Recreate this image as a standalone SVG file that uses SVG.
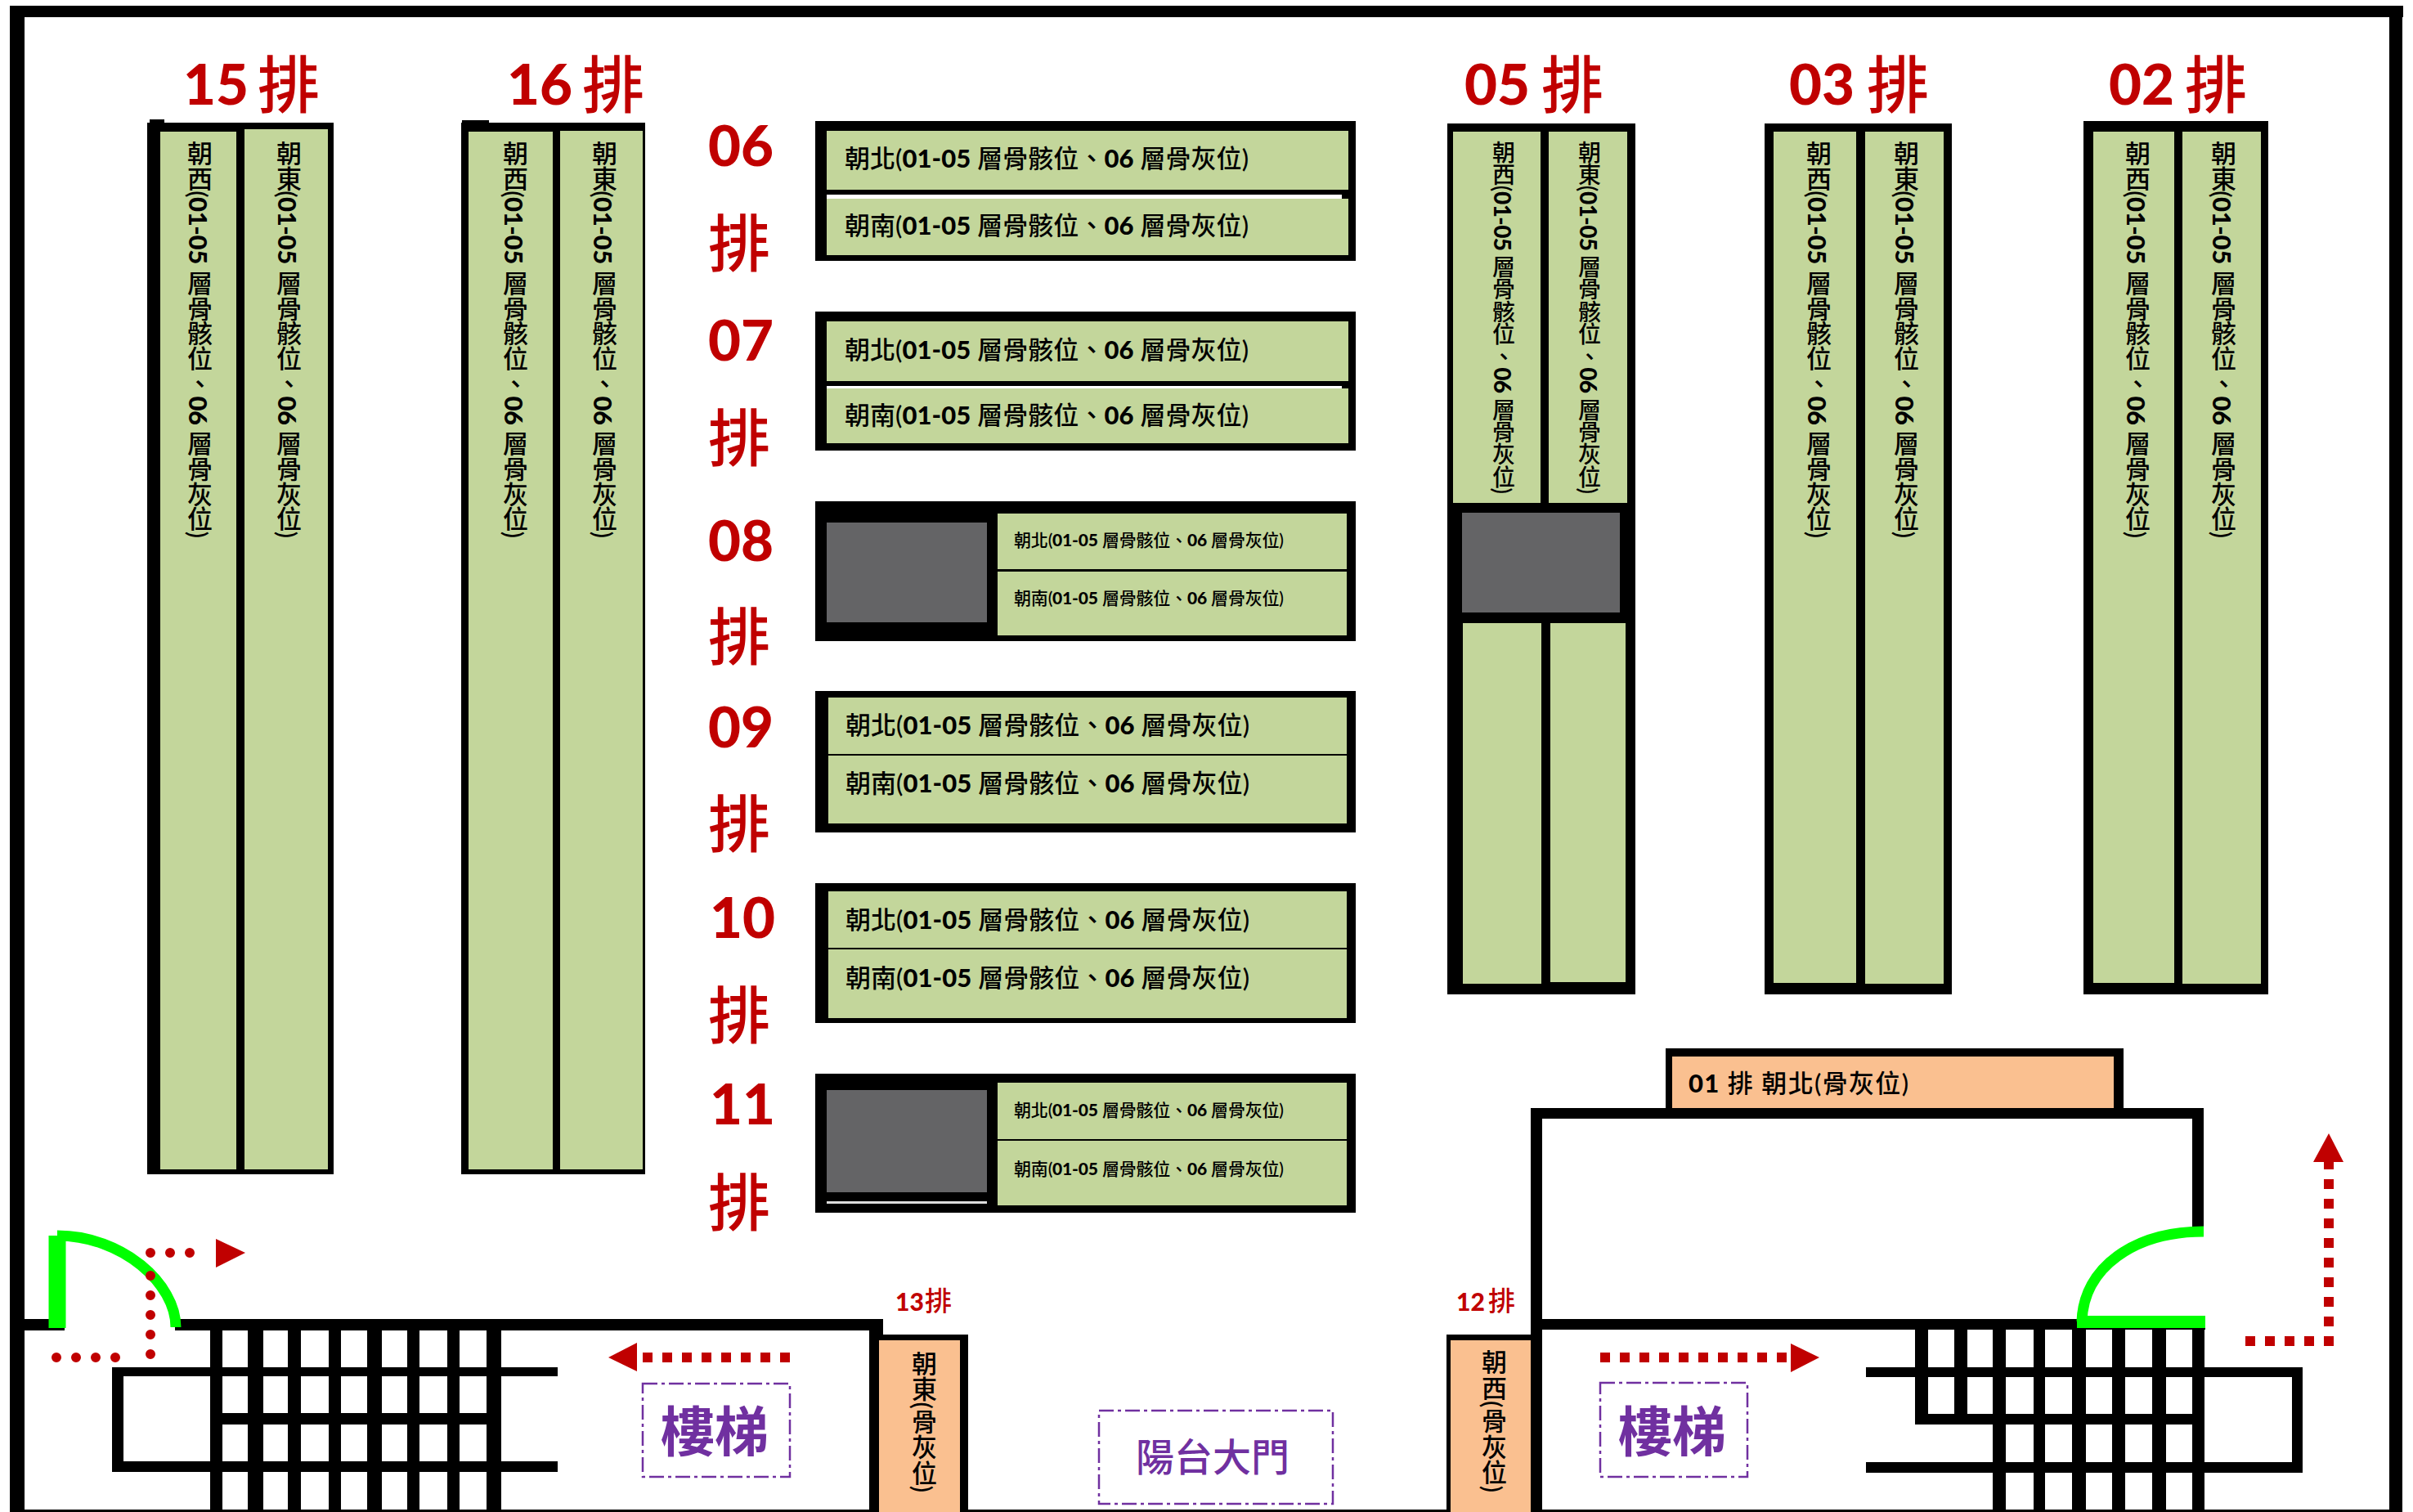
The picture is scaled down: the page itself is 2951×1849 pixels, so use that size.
<svg xmlns="http://www.w3.org/2000/svg" width="2951" height="1849" viewBox="0 0 2951 1849">
<style>
.g{fill:#C3D69B}.o{fill:#FAC090}.k{fill:#000}.s{fill:#646466}
.t{font-family:"Lato","Noto Sans CJK TC",sans-serif;font-weight:500;fill:#000}
.t tspan{font-family:"Lato",sans-serif;font-weight:900}
.h{font-size:31px}.m{font-size:21px}
.v{font-size:31px;writing-mode:vertical-rl}
.v2{font-size:28px}
.r{font-family:"Lato","Noto Sans CJK TC",sans-serif;font-weight:900;fill:#C00000;font-size:69px}
.rc{font-family:"Noto Sans CJK TC",sans-serif;font-weight:500;fill:#C00000;font-size:76px}
.p{fill:none;stroke:#7030A0;stroke-width:2.5;stroke-dasharray:18 5 4 5}
.pt{font-family:"Noto Sans CJK TC",sans-serif;font-weight:700;fill:#7030A0}
.dash{fill:none;stroke:#C00000;stroke-width:12;stroke-dasharray:12 12}
.dot{fill:none;stroke:#C00000;stroke-width:12;stroke-linecap:round;stroke-dasharray:0 24}
.door{fill:none;stroke:#00FF00;stroke-width:13}
</style>
<rect width="2951" height="1849" fill="#fff"/>
<g id="frame" class="k">
<rect x="12" y="7" width="18" height="1842"/><rect x="12" y="7" width="2927" height="14"/><rect x="2922" y="7" width="16" height="1842"/><rect x="12" y="1846" width="2926" height="3"/>
</g>
<g id="row15">
<rect class="k" x="180" y="150" width="228" height="1286"/><rect class="k" x="183" y="146" width="18" height="6"/><rect class="g" x="196" y="161" width="93" height="1269"/><rect class="g" x="299" y="158" width="102" height="1272"/>
<text class="r" x="224" y="128">15</text><text class="rc" x="315" y="132">排</text>
<text class="t v" x="243" y="172" textLength="486">朝西(<tspan>01-05</tspan> 層骨骸位、<tspan>06</tspan> 層骨灰位)</text>
<text class="t v" x="352" y="172" textLength="486">朝東(<tspan>01-05</tspan> 層骨骸位、<tspan>06</tspan> 層骨灰位)</text>
</g>
<g id="row16">
<rect class="k" x="564" y="150" width="225" height="1286"/><rect class="k" x="565" y="147" width="33" height="5"/><rect class="g" x="573" y="161" width="103" height="1269"/><rect class="g" x="685" y="160" width="101" height="1270"/>
<text class="r" x="620" y="128">16</text><text class="rc" x="712" y="132">排</text>
<text class="t v" x="629" y="172" textLength="486">朝西(<tspan>01-05</tspan> 層骨骸位、<tspan>06</tspan> 層骨灰位)</text>
<text class="t v" x="738" y="172" textLength="486">朝東(<tspan>01-05</tspan> 層骨骸位、<tspan>06</tspan> 層骨灰位)</text>
</g>
<g id="row06">
<rect class="k" x="997" y="148" width="661" height="171"/><rect class="g" x="1011" y="160" width="638" height="72"/><rect fill="#fff" x="1011" y="238" width="630" height="5"/><rect class="g" x="1011" y="243" width="638" height="69"/>
<text class="r" x="866" y="203">06</text><text class="rc" x="866" y="326">排</text>
<text class="t h" x="1033" y="205" textLength="494">朝北(<tspan>01-05</tspan> 層骨骸位、<tspan>06</tspan> 層骨灰位)</text>
<text class="t h" x="1033" y="287" textLength="494">朝南(<tspan>01-05</tspan> 層骨骸位、<tspan>06</tspan> 層骨灰位)</text>
</g>
<g id="row07">
<rect class="k" x="997" y="381" width="661" height="170"/><rect class="g" x="1011" y="393" width="638" height="73"/><rect fill="#fff" x="1011" y="472" width="630" height="3"/><rect class="g" x="1011" y="475" width="638" height="67"/>
<text class="r" x="866" y="441">07</text><text class="rc" x="866" y="564">排</text>
<text class="t h" x="1033" y="439" textLength="494">朝北(<tspan>01-05</tspan> 層骨骸位、<tspan>06</tspan> 層骨灰位)</text>
<text class="t h" x="1033" y="519" textLength="494">朝南(<tspan>01-05</tspan> 層骨骸位、<tspan>06</tspan> 層骨灰位)</text>
</g>
<g id="row08">
<rect class="k" x="997" y="613" width="661" height="171"/><rect class="s" x="1011" y="639" width="196" height="122"/><rect class="g" x="1220" y="628" width="427" height="68"/><rect class="g" x="1220" y="699" width="427" height="78"/>
<text class="r" x="866" y="686">08</text><text class="rc" x="866" y="807">排</text>
<text class="t m" x="1240" y="668" textLength="330">朝北(<tspan>01-05</tspan> 層骨骸位、<tspan>06</tspan> 層骨灰位)</text>
<text class="t m" x="1240" y="739" textLength="330">朝南(<tspan>01-05</tspan> 層骨骸位、<tspan>06</tspan> 層骨灰位)</text>
</g>
<g id="row09">
<rect class="k" x="997" y="845" width="661" height="173"/><rect class="g" x="1013" y="853" width="634" height="154"/><rect class="k" x="1013" y="922" width="634" height="2"/>
<text class="r" x="866" y="914">09</text><text class="rc" x="866" y="1036">排</text>
<text class="t h" x="1034" y="898" textLength="494">朝北(<tspan>01-05</tspan> 層骨骸位、<tspan>06</tspan> 層骨灰位)</text>
<text class="t h" x="1034" y="969" textLength="494">朝南(<tspan>01-05</tspan> 層骨骸位、<tspan>06</tspan> 層骨灰位)</text>
</g>
<g id="row10">
<rect class="k" x="997" y="1080" width="661" height="171"/><rect class="g" x="1013" y="1090" width="634" height="155"/><rect class="k" x="1013" y="1159" width="634" height="2"/>
<text class="r" x="868" y="1147">10</text><text class="rc" x="866" y="1270">排</text>
<text class="t h" x="1034" y="1136" textLength="494">朝北(<tspan>01-05</tspan> 層骨骸位、<tspan>06</tspan> 層骨灰位)</text>
<text class="t h" x="1034" y="1207" textLength="494">朝南(<tspan>01-05</tspan> 層骨骸位、<tspan>06</tspan> 層骨灰位)</text>
</g>
<g id="row11">
<rect class="k" x="997" y="1313" width="661" height="170"/><rect class="s" x="1011" y="1333" width="196" height="125"/><rect fill="#ddd" x="1011" y="1469" width="196" height="3"/><rect class="g" x="1220" y="1324" width="427" height="69"/><rect class="g" x="1220" y="1395" width="427" height="79"/>
<text class="r" x="868" y="1375">11</text><text class="rc" x="866" y="1499">排</text>
<text class="t m" x="1240" y="1365" textLength="330">朝北(<tspan>01-05</tspan> 層骨骸位、<tspan>06</tspan> 層骨灰位)</text>
<text class="t m" x="1240" y="1437" textLength="330">朝南(<tspan>01-05</tspan> 層骨骸位、<tspan>06</tspan> 層骨灰位)</text>
</g>
<g id="row05">
<rect class="k" x="1770" y="151" width="230" height="1065"/><rect class="g" x="1777" y="161" width="107" height="454"/><rect class="g" x="1894" y="161" width="96" height="454"/><rect class="s" x="1788" y="627" width="193" height="122"/><rect class="g" x="1789" y="762" width="96" height="441"/><rect class="g" x="1896" y="762" width="92" height="439"/>
<text class="r" x="1791" y="128">05</text><text class="rc" x="1885" y="132">排</text>
<text class="t v v2" x="1838" y="172" textLength="432">朝西(<tspan>01-05</tspan> 層骨骸位、<tspan>06</tspan> 層骨灰位)</text>
<text class="t v v2" x="1943" y="172" textLength="432">朝東(<tspan>01-05</tspan> 層骨骸位、<tspan>06</tspan> 層骨灰位)</text>
</g>
<g id="row03">
<rect class="k" x="2158" y="151" width="229" height="1065"/><rect class="g" x="2169" y="161" width="101" height="1041"/><rect class="g" x="2281" y="161" width="96" height="1042"/>
<text class="r" x="2188" y="128">03</text><text class="rc" x="2283" y="132">排</text>
<text class="t v" x="2223" y="172" textLength="486">朝西(<tspan>01-05</tspan> 層骨骸位、<tspan>06</tspan> 層骨灰位)</text>
<text class="t v" x="2330" y="172" textLength="486">朝東(<tspan>01-05</tspan> 層骨骸位、<tspan>06</tspan> 層骨灰位)</text>
</g>
<g id="row02">
<rect class="k" x="2548" y="148" width="226" height="1068"/><rect class="g" x="2560" y="161" width="99" height="1041"/><rect class="g" x="2669" y="161" width="96" height="1042"/>
<text class="r" x="2579" y="128">02</text><text class="rc" x="2672" y="132">排</text>
<text class="t v" x="2613" y="172" textLength="486">朝西(<tspan>01-05</tspan> 層骨骸位、<tspan>06</tspan> 層骨灰位)</text>
<text class="t v" x="2718" y="172" textLength="486">朝東(<tspan>01-05</tspan> 層骨骸位、<tspan>06</tspan> 層骨灰位)</text>
</g>
<g id="row01">
<rect class="k" x="2037" y="1282" width="560" height="80"/><rect class="o" x="2045" y="1292" width="540" height="67"/>
<text class="t h" x="2065" y="1336" textLength="269"><tspan>01</tspan> 排  朝北(骨灰位)</text>
</g>
<g id="walls" class="k">
<rect x="12" y="1613" width="67" height="14"/><rect x="214" y="1613" width="866" height="14"/><rect x="1063" y="1613" width="17" height="236"/>
<rect x="1872" y="1355" width="823" height="13"/><rect x="1872" y="1355" width="14" height="494"/><rect x="2681" y="1355" width="14" height="151"/><rect x="1872" y="1613" width="825" height="13"/>
</g>
<g id="stairs-left" class="k">
<rect x="257" y="1626" width="15" height="223"/><rect x="303" y="1626" width="19" height="223"/><rect x="352" y="1626" width="16" height="223"/><rect x="402" y="1626" width="15" height="223"/><rect x="449" y="1626" width="18" height="223"/><rect x="498" y="1626" width="15" height="223"/><rect x="547" y="1626" width="15" height="223"/><rect x="595" y="1626" width="18" height="223"/>
<rect x="137" y="1672" width="545" height="11"/><rect x="257" y="1728" width="356" height="14"/><rect x="137" y="1787" width="545" height="13"/><rect x="137" y="1672" width="14" height="128"/>
</g>
<g id="stairs-right" class="k">
<rect x="2342" y="1626" width="16" height="116"/><rect x="2390" y="1626" width="16" height="116"/><rect x="2437" y="1626" width="16" height="223"/><rect x="2487" y="1626" width="14" height="223"/><rect x="2534" y="1626" width="17" height="223"/><rect x="2583" y="1626" width="16" height="223"/><rect x="2632" y="1626" width="17" height="223"/><rect x="2681" y="1626" width="15" height="223"/>
<rect x="2282" y="1672" width="534" height="12"/><rect x="2342" y="1729" width="354" height="13"/><rect x="2282" y="1788" width="534" height="13"/><rect x="2803" y="1672" width="13" height="129"/>
</g>
<g id="row13">
<rect class="k" x="1075" y="1632" width="109" height="217"/><rect class="o" x="1075" y="1639" width="99" height="210"/>
<text class="r" x="1095" y="1603" style="font-size:30px">13</text><text class="rc" x="1131" y="1603" style="font-size:33px">排</text>
<text class="t v" x="1129" y="1652" textLength="173" font-weight="500">朝東(骨灰位)</text>
</g>
<g id="row12">
<rect class="k" x="1769" y="1632" width="103" height="217"/><rect class="o" x="1774" y="1639" width="98" height="210"/>
<text class="r" x="1781" y="1603" style="font-size:30px">12</text><text class="rc" x="1820" y="1603" style="font-size:33px">排</text>
<text class="t v" x="1826" y="1650" textLength="175">朝西(骨灰位)</text>
</g>
<g id="label-stairs-left">
<rect class="p" x="786" y="1692" width="180" height="114"/>
<text class="pt" x="808" y="1775" font-size="66">樓梯</text>
</g>
<g id="label-stairs-right">
<rect class="p" x="1957" y="1691" width="180" height="115"/>
<text class="pt" x="1979" y="1775" font-size="66">樓梯</text>
</g>
<g id="label-balcony">
<rect class="p" x="1344" y="1725" width="286" height="114"/>
<text class="pt" x="1389" y="1799" font-size="47" font-weight="500" style="font-weight:500">陽台大門</text>
</g>
<g id="connectors">
<path class="door" d="M70 1624V1511" style="stroke-width:21"/>
<path class="door" d="M70 1511C150 1511 215 1570 215 1623"/>
<path class="door" d="M2695 1506C2610 1506 2548 1550 2546 1616"/>
<rect x="2540" y="1609" width="157" height="15" fill="#00FF00"/>
<path class="dot" d="M69 1660H165M184 1656V1536M184 1532H255"/>
<path fill="#C00000" d="M264 1515L300 1532L264 1550Z"/>
<path class="dash" d="M966 1660H779"/>
<path fill="#C00000" d="M744 1660L779 1642V1677Z"/>
<path class="dash" d="M1957 1660H2190"/>
<path fill="#C00000" d="M2190 1643L2225 1660L2190 1678Z"/>
<path class="dash" d="M2746 1640H2848V1421"/>
<path fill="#C00000" d="M2848 1386L2866 1421H2829Z"/>
</g>
</svg>
